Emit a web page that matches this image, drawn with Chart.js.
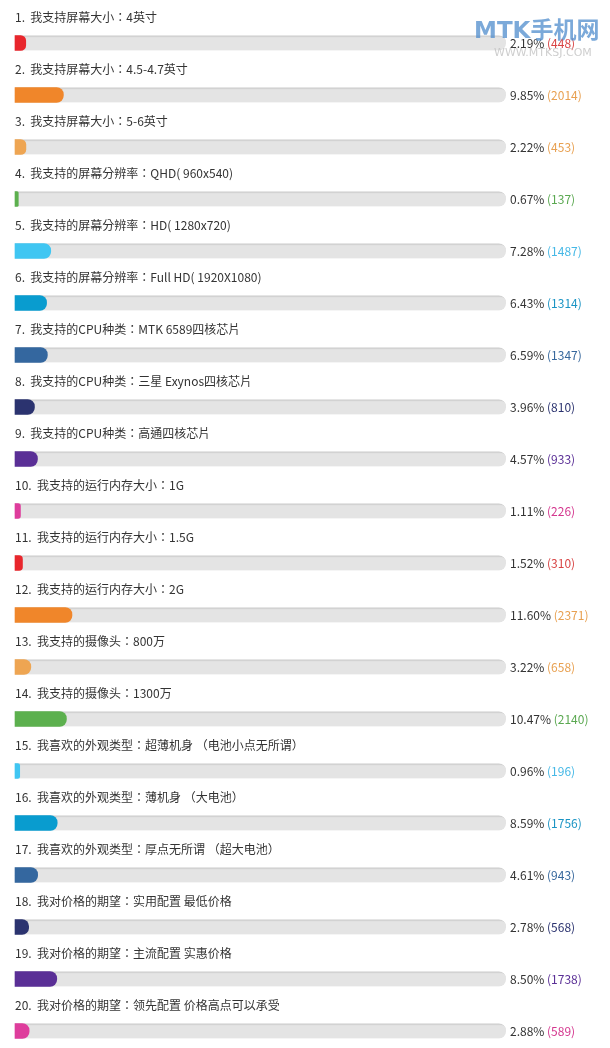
<!DOCTYPE html>
<html>
<head>
<meta charset="utf-8">
<script src="https://cdn.jsdelivr.net/npm/chart.js@4/dist/chart.umd.min.js"></script>
<style>
    html, body { margin: 0; padding: 0; background: #fff; }
    #wrap { width: 610px; height: 1048px; }
</style>
</head>
<body>
<div id="wrap"><canvas id="chart-poll" width="610" height="1048"></canvas></div>
<script>
// ─── Data ─────────────────────────────────────────────────────────────────────
const LABELS = [
    "我支持屏幕大小：4英寸",
    "我支持屏幕大小：4.5-4.7英寸",
    "我支持屏幕大小：5-6英寸",
    "我支持的屏幕分辨率：QHD( 960x540)",
    "我支持的屏幕分辨率：HD( 1280x720)",
    "我支持的屏幕分辨率：Full HD( 1920X1080)",
    "我支持的CPU种类：MTK 6589四核芯片",
    "我支持的CPU种类：三星 Exynos四核芯片",
    "我支持的CPU种类：高通四核芯片",
    "我支持的运行内存大小：1G",
    "我支持的运行内存大小：1.5G",
    "我支持的运行内存大小：2G",
    "我支持的摄像头：800万",
    "我支持的摄像头：1300万",
    "我喜欢的外观类型：超薄机身 （电池小点无所谓）",
    "我喜欢的外观类型：薄机身 （大电池）",
    "我喜欢的外观类型：厚点无所谓 （超大电池）",
    "我对价格的期望：实用配置 最低价格",
    "我对价格的期望：主流配置 实惠价格",
    "我对价格的期望：领先配置 价格高点可以承受",
];
const PERCENTS = [2.19, 9.85, 2.22, 0.67, 7.28, 6.43, 6.59, 3.96, 4.57, 1.11,
                  1.52, 11.60, 3.22, 10.47, 0.96, 8.59, 4.61, 2.78, 8.50, 2.88];
const VOTES = [448, 2014, 453, 137, 1487, 1314, 1347, 810, 933, 226,
               310, 2371, 658, 2140, 196, 1756, 943, 568, 1738, 589];

// colour cycle of the poll bars and of the vote counts
const BAR_COLORS = ["#e8262c", "#f0862a", "#eea552", "#5cb04e", "#40c6f2",
                    "#099ccf", "#34679f", "#2b336f", "#5a2f96", "#de3d9c"];
const COUNT_COLORS = ["#d84444", "#e8a050", "#e8a050", "#5aa850", "#45b8e6",
                      "#1a94c4", "#36679c", "#2b336f", "#5a2f96", "#d4368e"];

const TRACK_MAX = 100;
const FONT = "'Noto Sans CJK TC', 'Noto Sans CJK SC', 'Noto Sans', sans-serif";

// ─── Text plugin ──────────────────────────────────────────────────────────────
const pollText = {
    id: "pollText",
    afterDatasetsDraw(chart) {
        const { ctx, scales: { x, y } } = chart;
        const right = x.getPixelForValue(TRACK_MAX);
        ctx.save();
        ctx.textBaseline = "middle";
        ctx.font = "12px " + FONT;
        LABELS.forEach((label, i) => {
            const cy = y.getPixelForValue(i);
            ctx.fillStyle = "#333";
            ctx.textAlign = "left";
            ctx.fillText(`${i + 1}.  ${label}`, x.left, cy - 26);

            const pct = PERCENTS[i].toFixed(2) + "% ";
            ctx.fillText(pct, right + 4, cy);
            const w = ctx.measureText(pct).width;
            ctx.fillStyle = COUNT_COLORS[i % COUNT_COLORS.length];
            ctx.fillText(`(${VOTES[i]})`, right + 4 + w, cy);
        });

        // site watermark, top right
        ctx.globalAlpha = 0.75;
        ctx.font = "bold 23px 'DejaVu Sans', 'Noto Sans CJK SC', sans-serif";
        ctx.fillStyle = "#4f8ccc";
        ctx.fillText("MTK手机网", 474, 32);
        ctx.font = "11px 'DejaVu Sans', sans-serif";
        ctx.fillStyle = "#bdbdbd";
        ctx.fillText("WWW.MTKSJ.COM", 494, 53);
        ctx.restore();
    },
};

// ─── Chart ────────────────────────────────────────────────────────────────────
new Chart(document.getElementById("chart-poll"), {
    type: "bar",
    data: {
        labels: LABELS,
        datasets: [
            {
                label: "votes",
                data: PERCENTS,
                backgroundColor: PERCENTS.map((_, i) => BAR_COLORS[i % BAR_COLORS.length]),
                borderRadius: { topRight: 7, bottomRight: 7 },
                borderSkipped: false,
                barThickness: 15,
                clip: false,
                order: 1,
            },
            {
                label: "track",
                data: LABELS.map(() => TRACK_MAX),
                backgroundColor: "#e4e4e4",
                borderColor: "#d2d2d2",
                borderWidth: { top: 2, right: 0, bottom: 0, left: 0 },
                borderRadius: { topRight: 7, bottomRight: 7 },
                borderSkipped: false,
                barThickness: 15,
                clip: false,
                order: 2,
            },
        ],
    },
    options: {
        indexAxis: "y",
        responsive: false,
        animation: false,
        layout: { padding: { left: 15, right: 104, top: 43, bottom: 17 } },
        plugins: { legend: { display: false }, tooltip: { enabled: false } },
        datasets: { bar: { grouped: false } },
        scales: {
            x: { display: false, min: 0, max: TRACK_MAX },
            y: { display: false, offset: false, grid: { offset: false } },
        },
    },
    plugins: [pollText],
});
</script>
</body>
</html>
